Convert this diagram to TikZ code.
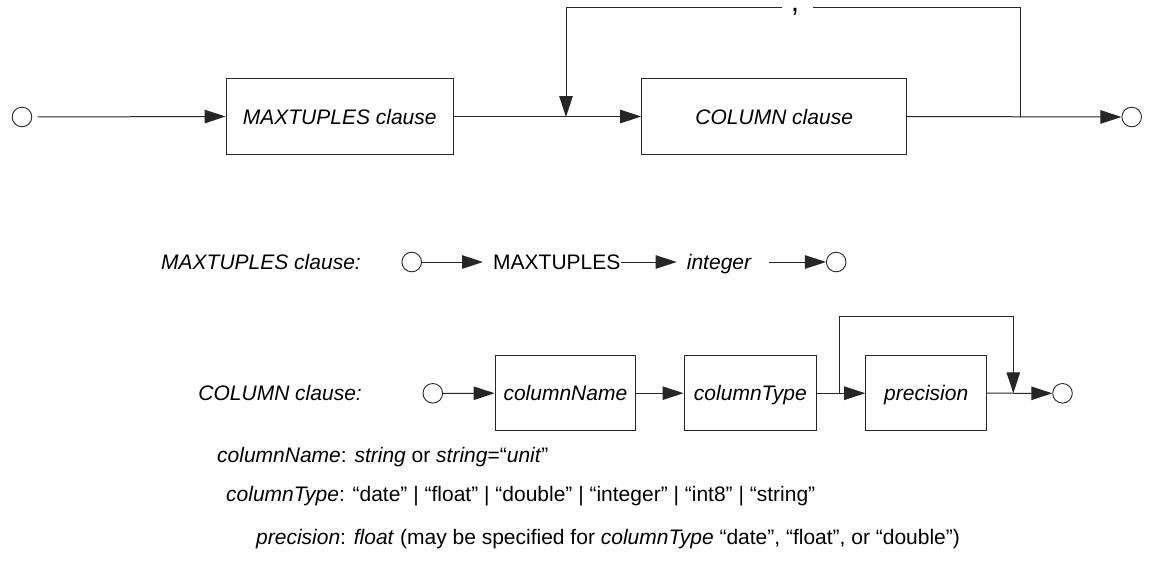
\documentclass[tikz,border=0pt]{standalone}
\usepackage{fontspec}
\setmainfont{Liberation Sans}
\usetikzlibrary{arrows.meta}
\begin{document}
\begin{tikzpicture}[x=1pt,y=-1pt,
  every node/.style={font=\fontsize{21}{25}\selectfont},
  ln/.style={line width=1pt, draw=black!85},
  arr/.style={ln, -{Triangle[length=21pt,width=13.5pt]}},
  term/.style={circle, draw=black!85, line width=0.9pt, minimum size=19.6pt, inner sep=0pt},
  blk/.style={rectangle, draw=black!85, line width=1pt, inner sep=0pt,
    minimum height=75.5pt, text height=15pt, text depth=0pt,
    font=\fontsize{21}{25}\selectfont\itshape},
  wd/.style={inner sep=0pt, text height=15pt, text depth=0pt},
  note/.style={inner sep=0pt, anchor=base west}
]
\useasboundingbox (0,0) rectangle (1153,571);

% ---------- main syntax line ----------
\node[term] (s1) at (22,117) {};
\node[blk, minimum width=227.3pt] (b1) at (339.7,116.5) {MAXTUPLES clause};
\node[blk, minimum width=265pt] (b2) at (774.2,116.5) {COLUMN clause};
\node[term] (e1) at (1131.7,117) {};
\node[inner sep=0pt, anchor=base, font=\fontsize{30}{34}\selectfont] (cm) at (795,11) {,};

\coordinate (j1) at (566,117);
\coordinate (j2) at (1020,117);
\coordinate (gapL) at (781.7,7.3);
\coordinate (gapR) at (812.7,7.3);

\draw[arr, shorten <=5.5pt] (s1.east) -- (b1.west);
\draw[arr] (b1.east) -- (b2.west);
\draw[arr] (b2.east) -- (e1.west);
\draw[ln] (j2) |- (gapR);
\draw[arr] (gapL) -| (j1);

% ---------- MAXTUPLES clause ----------
\node[wd, anchor=east, font=\fontsize{21}{25}\selectfont\itshape] (l2) at (361,262) {MAXTUPLES clause:};
\node[term] (s2) at (411.7,262) {};
\node[wd, anchor=west] (kw) at (493,262) {MAXTUPLES};
\node[wd, anchor=west, font=\fontsize{21}{25}\selectfont\itshape] (int) at (686.7,262) {integer};
\node[term] (e2) at (836.2,262) {};

\draw[arr, shorten >=10pt] (s2.east) -- (kw.west);
\draw[arr, shorten >=10pt] (kw.east) -- (int.west);
\draw[arr, shorten <=18pt] (int.east) -- (e2.west);

% ---------- COLUMN clause ----------
\node[wd, anchor=east, font=\fontsize{21}{25}\selectfont\itshape] (l3) at (362,393.3) {COLUMN clause:};
\node[term] (s3) at (432.8,393.3) {};
\node[blk, minimum width=140.7pt, minimum height=75pt] (cn) at (565.4,393.2) {columnName};
\node[blk, minimum width=132.7pt, minimum height=75pt] (ct) at (750.4,393.2) {columnType};
\node[blk, minimum width=121pt, minimum height=75pt] (pr) at (926.2,393.2) {precision};
\node[term] (e3) at (1062.5,393.3) {};

\coordinate (k1) at (839,393.3);
\coordinate (k2) at (1013.3,393.3);
\coordinate (k3) at (1013.3,316);

\draw[arr] (s3.east) -- (cn.west);
\draw[arr] (cn.east) -- (ct.west);
\draw[arr] (ct.east) -- (pr.west);
\draw[arr] (pr.east) -- (e3.west);
\draw[arr] (k1) |- (k3) -- (k2);

% ---------- definitions ----------
\node[note] (dn) at (217,462) {\textit{columnName}: \textit{string} or \textit{string}=“\textit{unit}”};
\node[note] (dt) at (226,501) {\textit{columnType}: “date” | “float” | “double” | “integer” | “int8” | “string”};
\node[note] (dp) at (256,544) {\textit{precision}: \textit{float} (may be specified for \textit{columnType} “date”, “float”, or “double”)};
\end{tikzpicture}
\end{document}
